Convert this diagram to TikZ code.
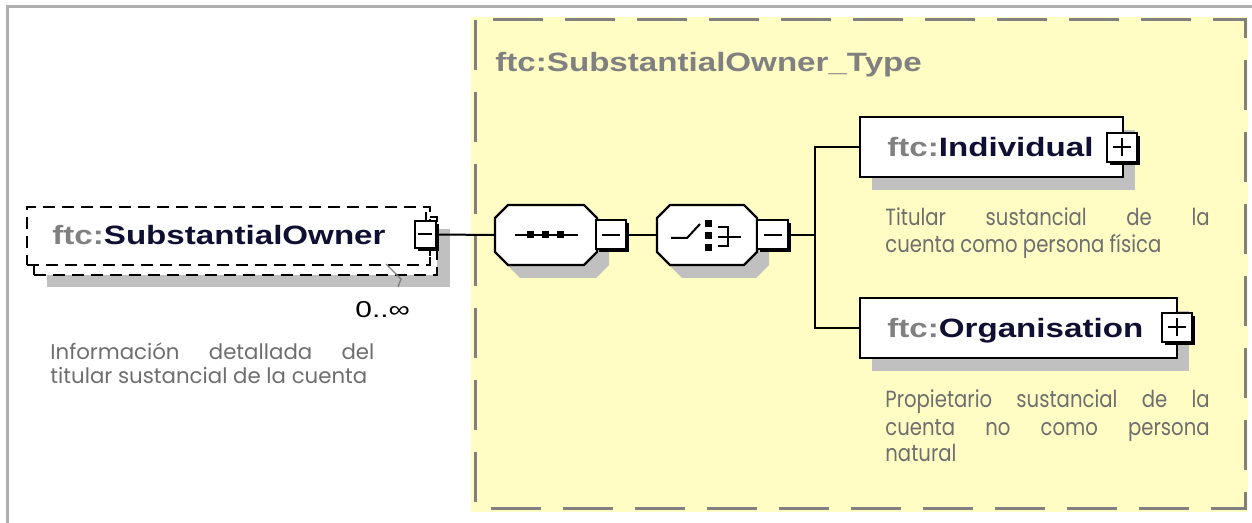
\documentclass[tikz,border=0pt]{standalone}
\usepackage{graphicx}
\usepackage{fontspec}
\setmainfont{Liberation Sans}
\newfontfamily\descfont{Poppins}
\usetikzlibrary{shadows}
\definecolor{yel}{RGB}{255,253,196}
\definecolor{framecol}{RGB}{175,175,175}
\definecolor{dashgray}{RGB}{128,128,128}
\definecolor{shadowgray}{RGB}{192,192,192}
\definecolor{prefixcol}{RGB}{128,128,128}
\definecolor{namecol}{RGB}{15,15,50}
\definecolor{desccol}{RGB}{110,110,110}
\begin{document}
\begin{tikzpicture}[x=0.5pt,y=-0.5pt,
  elbox/.style={draw=black, line width=1.3pt, fill=white, inner sep=0pt,
     drop shadow={shadow xshift=6pt, shadow yshift=-6.5pt, fill=shadowgray, opacity=1}},
  optbox/.style={draw=black, dash pattern=on 6pt off 3.5pt, line width=1.2pt, fill=white, inner sep=0pt},
  pmbox/.style={draw=black, line width=1pt, fill=white, inner sep=0pt,
     drop shadow={shadow xshift=1.5pt, shadow yshift=-1.5pt, fill=black, opacity=1}},
  conn/.style={line width=1pt, black},
  octo/.style={draw=black, line width=1.2pt, fill=white},
  octshadow/.style={fill=shadowgray},
  ename/.style={anchor=base west, inner sep=0pt, font=\fontsize{13.25}{16}\selectfont\bfseries},
  desc/.style={anchor=base west, inner sep=0pt, text=desccol},
  octpath/.style n args={5}{insert path={(#1-#3+#5,#2-#4) -- (#1+#3-#5,#2-#4) -- (#1+#3,#2-#4+#5) -- (#1+#3,#2+#4-#5) -- (#1+#3-#5,#2+#4) -- (#1-#3+#5,#2+#4) -- (#1-#3,#2+#4-#5) -- (#1-#3,#2-#4+#5) -- cycle}},
  icon/.style={line width=1pt, black},
  dot/.style={fill=black, minimum size=3.5pt, inner sep=0pt}
]
\useasboundingbox (0,0) rectangle (1252,523);
% outer frame
\draw[framecol, line width=1.5pt] (7,523) -- (7,7) -- (1252,7);
% complex type area
\fill[yel] (471,17) rectangle (1248,512);
\draw[dashgray, line width=1.5pt, dash pattern=on 25pt off 11pt] (475,20) rectangle (1245,508);
\node[ename, text=dashgray] (title) at (495,72) {\scalebox{1.25}[1]{ftc:SubstantialOwner\_Type}};

% SubstantialOwner element (optional, repeated)
\node[optbox, minimum width=201.5pt, minimum height=29pt,
  drop shadow={shadow xshift=6.5pt, shadow yshift=-6pt, fill=shadowgray, opacity=1}] (soback) at (235.5,246) {};
\node[optbox, minimum width=201.5pt, minimum height=29pt] (so) at (228.5,236) {};
\node[ename] (sotxt) at (52,245) {\scalebox{1.25}[1]{\textcolor{prefixcol}{ftc:}\textcolor{namecol}{SubstantialOwner}}};
\draw[line width=0.8pt] (426,212) -- (426,222);
\draw[line width=0.8pt] (430,247) -- (430,256);
\node[pmbox, minimum width=10.5pt, minimum height=13.5pt] (somin) at (425,234.5) {};
\draw[line width=1pt] ([xshift=-3.5pt]somin.center) -- ([xshift=3.5pt]somin.center);
\draw[dashgray, line width=0.7pt] (386,264) -- (401,279) -- (398,287);
\node[anchor=base west, inner sep=0pt, font=\fontsize{11.5}{13}\selectfont] (mult) at (355,318) {\scalebox{1.3}[1]{0..∞}};
\node[desc, font=\descfont\fontsize{10.65}{12}\selectfont] (d1) at (50,360)
  {\parbox[t]{162pt}{\hbox to 162pt{Información\hfill detallada\hfill del}\hbox{titular sustancial de la cuenta}}};

% sequence compositor
\fill[octshadow, octpath={558}{248}{51}{30}{13}];
\draw[octo, octpath={546}{235}{51}{30}{13}];
\node[inner sep=0pt, minimum width=51pt, minimum height=30pt] (seq) at (546,235) {};
\draw[icon] (515,235) -- (578,235);
\node[dot] (sd1) at (530,235) {};
\node[dot] (sd2) at (545,235) {};
\node[dot] (sd3) at (560,235) {};
\node[pmbox, minimum width=15pt, minimum height=14.5pt] (seqmin) at (611,235) {};
\draw[line width=1pt] ([xshift=-4.5pt]seqmin.center) -- ([xshift=4.5pt]seqmin.center);

% choice compositor
\fill[octshadow, octpath={719}{248}{50}{30}{13}];
\draw[octo, octpath={707}{235}{50}{30}{13}];
\node[inner sep=0pt, minimum width=50pt, minimum height=30pt] (ch) at (707,235) {};
\draw[icon] (671,238) -- (687,238) -- (700,224);
\node[dot] (cd1) at (708,224) {};
\node[dot] (cd2) at (708,236) {};
\node[dot] (cd3) at (708,248) {};
\draw[icon] (718,227) -- (728,227) -- (728,246) -- (718,246);
\draw[icon] (718,237) -- (741,237);
\node[pmbox, minimum width=15.5pt, minimum height=14.5pt] (chmin) at (772.5,235) {};
\draw[line width=1pt] ([xshift=-4.5pt]chmin.center) -- ([xshift=4.5pt]chmin.center);
\coordinate (jn) at (815,235);

% Individual
\node[elbox, minimum width=131.5pt, minimum height=30pt] (ind) at (991.5,147) {};
\node[ename] (indtxt) at (887,157) {\scalebox{1.25}[1]{\textcolor{prefixcol}{ftc:}\textcolor{namecol}{Individual}}};
\node[pmbox, minimum width=15pt, minimum height=14.5pt] (indplus) at (1122,147.5) {};
\draw[line width=1pt] ([xshift=-4.5pt]indplus.center) -- ([xshift=4.5pt]indplus.center);
\draw[line width=1pt] ([yshift=-4.5pt]indplus.center) -- ([yshift=4.5pt]indplus.center);
\node[desc, font=\descfont\fontsize{11.7}{13.5}\selectfont] (d2) at (885,226)
  {\scalebox{0.84}[1]{\parbox[t]{193pt}{\hbox to 193pt{Titular\hfill sustancial\hfill de\hfill la}\hbox{cuenta como persona física}}}};

% Organisation
\node[elbox, minimum width=158.5pt, minimum height=30pt] (org) at (1018.5,328) {};
\node[ename] (orgtxt) at (887,338) {\scalebox{1.25}[1]{\textcolor{prefixcol}{ftc:}\textcolor{namecol}{Organisation}}};
\node[pmbox, minimum width=15pt, minimum height=14.5pt] (orgplus) at (1177,327.5) {};
\draw[line width=1pt] ([xshift=-4.5pt]orgplus.center) -- ([xshift=4.5pt]orgplus.center);
\draw[line width=1pt] ([yshift=-4.5pt]orgplus.center) -- ([yshift=4.5pt]orgplus.center);
\node[desc, font=\descfont\fontsize{11.7}{13.5}\selectfont] (d3) at (885,408)
  {\scalebox{0.84}[1]{\parbox[t]{193pt}{\hbox to 193pt{Propietario\hfill sustancial\hfill de\hfill la}\hbox to 193pt{cuenta\hfill no\hfill como\hfill persona}\hbox{natural}}}};

% connectors
\draw[conn] (somin.east) -- (seq.west);
\draw[conn] (seqmin.east) -- (ch.west);
\draw[conn] (chmin.east) -- (jn);
\draw[conn] (ind.west) -| (jn) |- (org.west);
\end{tikzpicture}
\end{document}
